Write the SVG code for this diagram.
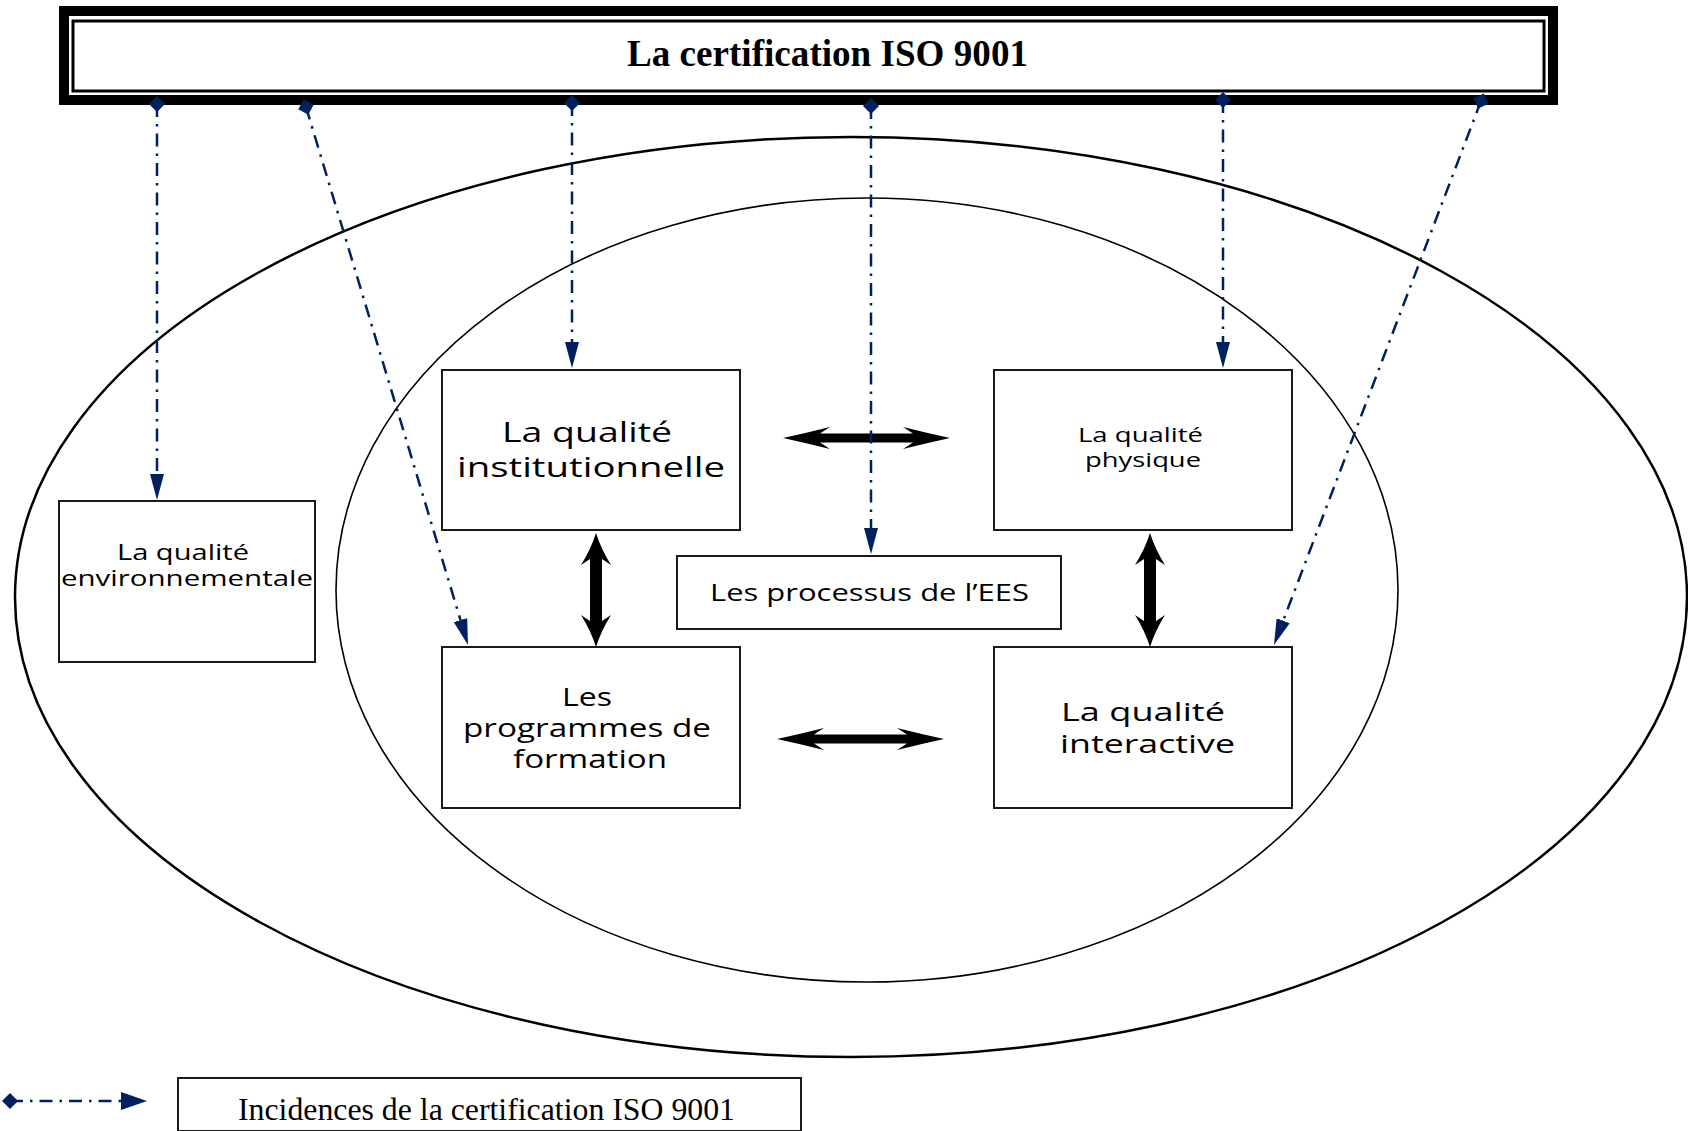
<svg xmlns="http://www.w3.org/2000/svg" width="1688" height="1131" viewBox="0 0 1688 1131">
<style>
.box{fill:#fff;stroke:#1a1a1a;stroke-width:2}
.ell{fill:none;stroke:#000}
.t{font-family:"Open Sans","DejaVu Sans",sans-serif;fill:#000}
.serif{font-family:"Liberation Serif","Times New Roman",serif;fill:#000}
.inc{fill:none;stroke:#002060;stroke-width:2.5;stroke-dasharray:13 7 2.5 7}
.dbl{fill:#000}
</style>
<defs>
<marker id="tri" markerUnits="userSpaceOnUse" viewBox="0 0 26 14" markerWidth="26" markerHeight="14" refX="0" refY="7" orient="auto"><path d="M0,0 L26,7 L0,14 Z" fill="#002060"/></marker>
<marker id="tri2" markerUnits="userSpaceOnUse" viewBox="0 0 26 18" markerWidth="26" markerHeight="18" refX="0" refY="9" orient="auto"><path d="M0,0 L26,9 L0,18 Z" fill="#002060"/></marker>
<marker id="dia" markerUnits="userSpaceOnUse" viewBox="-9 -9 18 18" markerWidth="18" markerHeight="18" refX="0" refY="0" orient="auto"><path d="M-8,0 L0,-8 L8,0 L0,8 Z" fill="#002060"/></marker>
</defs>
<rect width="1688" height="1131" fill="#fff"/>

<g id="ellipses">
<ellipse class="ell" cx="851" cy="597" rx="836" ry="460" stroke-width="2.5"/>
<ellipse class="ell" cx="867" cy="590" rx="531" ry="392" stroke-width="1.6"/>
</g>

<g id="title">
<rect x="64" y="11" width="1489" height="89" fill="#fff" stroke="#000" stroke-width="10"/>
<rect x="73" y="21" width="1471" height="70" fill="#fff" stroke="#000" stroke-width="3"/>
<text class="serif" x="627" y="66" font-size="38" font-weight="bold" textLength="401" lengthAdjust="spacingAndGlyphs">La certification ISO 9001</text>
</g>

<g id="env">
<rect class="box" x="59" y="501" width="256" height="161"/>
<text class="t" x="117" y="560" font-size="21" textLength="132" lengthAdjust="spacingAndGlyphs">La qualité</text>
<text class="t" x="61" y="586" font-size="21" textLength="252" lengthAdjust="spacingAndGlyphs">environnementale</text>
</g>

<g id="institutionnelle">
<rect class="box" x="442" y="370" width="298" height="160"/>
<text class="t" x="502" y="442" font-size="28" textLength="170" lengthAdjust="spacingAndGlyphs">La qualité</text>
<text class="t" x="457" y="477" font-size="28" textLength="268" lengthAdjust="spacingAndGlyphs">institutionnelle</text>
</g>

<g id="physique">
<rect class="box" x="994" y="370" width="298" height="160"/>
<text class="t" x="1078" y="442" font-size="20" textLength="125" lengthAdjust="spacingAndGlyphs">La qualité</text>
<text class="t" x="1085" y="467" font-size="20" textLength="116" lengthAdjust="spacingAndGlyphs">physique</text>
</g>

<g id="processus">
<rect class="box" x="677" y="556" width="384" height="73"/>
<text class="t" x="710" y="601" font-size="24" textLength="319" lengthAdjust="spacingAndGlyphs">Les processus de l’EES</text>
</g>

<g id="programmes">
<rect class="box" x="442" y="647" width="298" height="161"/>
<text class="t" x="562" y="706" font-size="25" textLength="50" lengthAdjust="spacingAndGlyphs">Les</text>
<text class="t" x="463" y="737" font-size="25" textLength="248" lengthAdjust="spacingAndGlyphs">programmes de</text>
<text class="t" x="513" y="768" font-size="25" textLength="154" lengthAdjust="spacingAndGlyphs">formation</text>
</g>

<g id="interactive">
<rect class="box" x="994" y="647" width="298" height="161"/>
<text class="t" x="1061" y="721" font-size="25" textLength="164" lengthAdjust="spacingAndGlyphs">La qualité</text>
<text class="t" x="1060" y="753" font-size="25" textLength="175" lengthAdjust="spacingAndGlyphs">interactive</text>
</g>

<g id="legend">
<rect class="box" x="178" y="1078" width="623" height="53"/>
<text class="serif" x="238" y="1120" font-size="31" textLength="497" lengthAdjust="spacingAndGlyphs">Incidences de la certification ISO 9001</text>
<line class="inc" x1="10" y1="1101" x2="121" y2="1101" marker-start="url(#dia)" marker-end="url(#tri2)"/>
</g>

<g id="connectors">
<path class="dbl" d="M783,438 Q806,433 830,427 L820,433.5 L913,433.5 L903,427 Q927,433 950,438 Q927,443 903,449 L913,442.5 L820,442.5 L830,449 Q806,443 783,438 Z"/>
<path class="dbl" d="M777,739 Q800,734 824,728 L814,734.5 L907,734.5 L897,728 Q921,734 944,739 Q921,744 897,750 L907,743.5 L814,743.5 L824,750 Q800,744 777,739 Z"/>
<path class="dbl" d="M596,533 Q591,549 581,565 L590,559 L590,621 L581,615 Q591,631 596,647 Q601,631 611,615 L602,621 L602,559 L611,565 Q601,549 596,533 Z"/>
<path class="dbl" d="M1150,533 Q1145,549 1135,565 L1144,559 L1144,621 L1135,615 Q1145,631 1150,647 Q1155,631 1165,615 L1156,621 L1156,559 L1165,565 Q1155,549 1150,533 Z"/>
<line class="inc" x1="157" y1="104" x2="157" y2="474" marker-start="url(#dia)" marker-end="url(#tri)"/>
<line class="inc" x1="306" y1="107" x2="460.5" y2="620.1" marker-start="url(#dia)" marker-end="url(#tri)"/>
<line class="inc" x1="572" y1="103" x2="572" y2="342" marker-start="url(#dia)" marker-end="url(#tri)"/>
<line class="inc" x1="871" y1="106" x2="871" y2="528" marker-start="url(#dia)" marker-end="url(#tri)"/>
<line class="inc" x1="1223" y1="100" x2="1223" y2="342" marker-start="url(#dia)" marker-end="url(#tri)"/>
<line class="inc" x1="1481" y1="101" x2="1283.2" y2="620.7" marker-start="url(#dia)" marker-end="url(#tri)"/>
</g>
</svg>
